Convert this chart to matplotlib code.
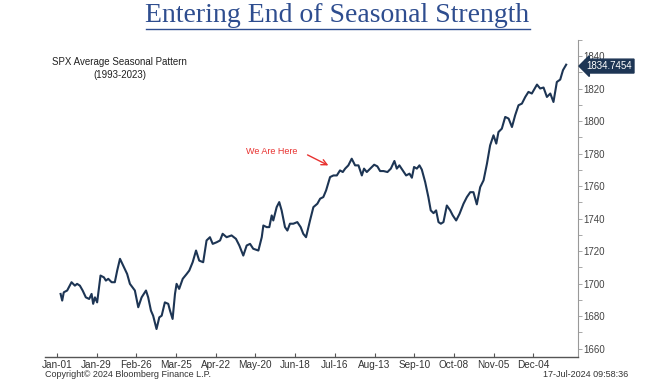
import matplotlib
matplotlib.use("Agg")
import matplotlib.pyplot as plt
from matplotlib.lines import Line2D
from matplotlib.ticker import MultipleLocator

# trading-day index from Jan-01 and average seasonal SPX level
days = [1.9, 2.7, 3.5, 5.2, 7.4, 9.1, 10.2, 11.6, 13.0, 14.6, 16.3, 17.5, 18.3, 19.2,
        20.3, 22.0, 23.7, 24.7, 25.9, 27.6, 29.2, 30.4, 31.8, 33.4, 35.4, 36.8, 39.3,
        41.0, 42.7, 44.9, 46.0, 47.4, 48.5, 50.2, 51.6, 52.8, 54.4, 56.1, 57.0, 58.3,
        59.5, 60.3, 61.6, 63.4, 65.4, 66.7, 68.4, 70.1, 71.7, 73.7, 75.4, 77.1, 78.5,
        80.5, 82.2, 83.5, 85.5, 88.0, 90.2, 91.9, 93.9, 95.6, 97.3, 98.9, 101.5, 103.2,
        104.0, 105.7, 107.0, 108.2, 109.0, 110.7, 112.0, 113.2, 114.9, 116.1, 117.4,
        119.1, 121.1, 122.8, 124.1, 125.5, 127.5, 129.2, 131.2, 132.6, 134.2, 135.6,
        137.6, 139.3, 141.0, 142.6, 144.0, 145.2, 146.8, 148.5, 150.2, 151.9, 153.6,
        154.7, 156.1, 157.8, 159.8, 161.4, 162.8, 164.5, 166.5, 168.2, 170.0, 171.2,
        172.5, 174.2, 175.9, 177.6, 178.8, 179.9, 181.3, 182.6, 183.8, 185.5, 187.1,
        188.3, 189.7, 191.0, 192.2, 193.4, 194.7, 196.4, 198.1, 199.4, 201.1, 202.8,
        204.8, 206.5, 208.2, 209.8, 211.5, 213.2, 214.9, 216.6, 218.2, 219.9, 221.3,
        222.4, 224.1, 225.8, 227.5, 229.2, 230.8, 232.5, 234.2, 235.9, 237.5, 239.2,
        241.8, 243.4, 245.1, 246.8, 248.5, 250.1, 251.8, 253.5, 254.9, 256.5]
values = [1693.7, 1689.6, 1694.7, 1695.8, 1700.9, 1698.8, 1699.9, 1698.8, 1695.8, 1691.6,
          1690.6, 1693.7, 1687.6, 1691.6, 1688.5, 1705.0, 1703.9, 1701.9, 1703.0, 1700.9,
          1700.9, 1708.1, 1715.3, 1711.2, 1706.0, 1699.9, 1695.8, 1685.5, 1691.6, 1695.8,
          1691.6, 1683.4, 1680.3, 1672.1, 1679.3, 1680.3, 1688.5, 1687.6, 1683.4, 1678.3,
          1693.7, 1699.9, 1696.8, 1703.0, 1706.0, 1708.1, 1713.2, 1720.4, 1714.2, 1713.2,
          1726.6, 1728.6, 1724.5, 1725.5, 1726.6, 1730.7, 1728.6, 1729.7, 1727.6, 1723.5,
          1717.3, 1723.5, 1724.5, 1721.5, 1720.4, 1728.6, 1735.8, 1734.8, 1734.8, 1742.0,
          1738.9, 1747.1, 1750.2, 1745.1, 1734.8, 1732.7, 1736.9, 1736.9, 1737.9, 1734.8,
          1730.7, 1728.6, 1738.9, 1747.1, 1749.2, 1752.3, 1753.3, 1757.4, 1765.6, 1766.6,
          1766.6, 1769.7, 1768.7, 1770.8, 1772.8, 1776.9, 1772.8, 1772.8, 1766.6, 1770.8,
          1768.7, 1770.8, 1773.2, 1772.2, 1769.3, 1769.3, 1768.7, 1770.8, 1775.5, 1770.8,
          1772.8, 1769.7, 1766.6, 1767.7, 1765.2, 1771.8, 1770.8, 1772.8, 1770.2, 1762.5,
          1753.3, 1745.1, 1743.4, 1745.1, 1737.9, 1736.9, 1737.9, 1748.1, 1745.1, 1742.0,
          1738.9, 1743.0, 1749.2, 1753.3, 1756.3, 1756.3, 1748.8, 1759.4, 1763.6, 1773.8,
          1785.1, 1791.3, 1786.2, 1793.3, 1795.4, 1802.6, 1801.6, 1796.4, 1803.6, 1809.8,
          1810.8, 1814.9, 1818.0, 1817.0, 1822.5, 1820.1, 1820.7, 1814.9, 1817.0, 1811.8,
          1824.1, 1825.6, 1831.4, 1834.7454]

tick_days = [0, 20, 40, 60, 80, 100, 120, 140, 160, 180, 200, 220, 240]
tick_labels = ["Jan-01", "Jan-29", "Feb-26", "Mar-25", "Apr-22", "May-20", "Jun-18",
               "Jul-16", "Aug-13", "Sep-10", "Oct-08", "Nov-05", "Dec-04"]

sans = ["Liberation Sans", "DejaVu Sans"]
navy = "#1d3554"

fig = plt.figure(figsize=(6.51, 3.80), dpi=100)
ax = fig.add_axes([0.069, 0.061, 0.819, 0.834])

ax.plot(days, values, color=navy, lw=1.5)

ax.set_xlim(-6, 262.5)
ax.set_ylim(1655, 1850)

for s in ["top", "left"]:
    ax.spines[s].set_visible(False)
ax.spines["bottom"].set_color("#555555")
ax.spines["right"].set_color("#999999")
ax.spines["bottom"].set_linewidth(1.0)
ax.spines["right"].set_linewidth(0.8)

ax.yaxis.tick_right()
ax.yaxis.set_major_locator(MultipleLocator(20))
ax.yaxis.set_minor_locator(MultipleLocator(10))
ax.tick_params(axis="y", which="both", direction="out", length=3, width=0.6,
               colors="#999999", labelcolor="#444444", labelsize=7, pad=1)
ax.set_xticks(tick_days)
ax.set_xticklabels(tick_labels)
ax.tick_params(axis="x", direction="in", length=3, width=0.8, colors="#555555",
               labelcolor="#333333", labelsize=7.2, pad=2)
for lab in ax.get_xticklabels() + ax.get_yticklabels():
    lab.set_family(sans)

# last value tag
ax.annotate(f"{values[-1]:.4f}", xy=(1.0, values[-1]), xycoords=("axes fraction", "data"),
            xytext=(6, -1), textcoords="offset points", va="center", ha="left",
            fontsize=7, color="white", family=sans,
            bbox=dict(boxstyle="larrow,pad=0.2", fc=navy, ec=navy))

# annotation
ax.annotate("", xy=(138, 1772), xytext=(125, 1780),
            arrowprops=dict(arrowstyle="->", color="#e8312f", lw=1.0))
ax.text(108, 1781.5, "We Are Here", color="#e8312f", fontsize=6.5, ha="center",
        va="center", family=sans)

ax.text(0.14, 0.946, "SPX Average Seasonal Pattern\n(1993-2023)", transform=ax.transAxes,
        ha="center", va="top", fontsize=7, color="#222222", family=sans, linespacing=1.35)

fig.text(0.517, 0.958, "Entering End of Seasonal Strength", ha="center", va="center",
         fontsize=20, color="#2e4d8f", family="Liberation Serif")
fig.add_artist(Line2D([0.224, 0.814], [0.924, 0.924], color="#2e4d8f", lw=1.0))

fig.text(0.069, 0.002, "Copyright\u00a9 2024 Bloomberg Finance L.P.", ha="left", va="bottom",
         fontsize=6.5, color="#333333", family=sans)
fig.text(0.965, 0.002, "17-Jul-2024 09:58:36", ha="right", va="bottom",
         fontsize=6.5, color="#333333", family=sans)

fig.savefig("out.png", dpi=100)
